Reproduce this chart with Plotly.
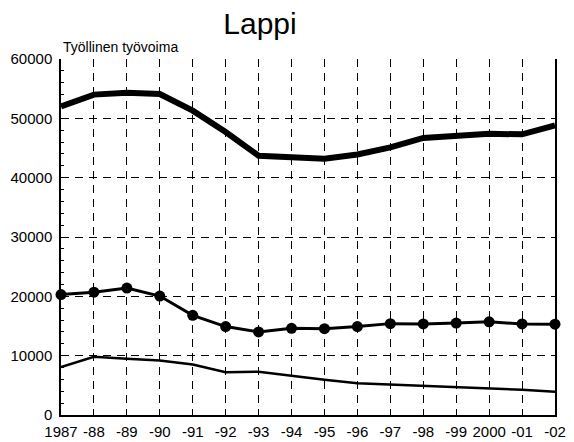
import plotly.graph_objects as go

years = list(range(1987, 2003))
tick_labels = ["1987", "-88", "-89", "-90", "-91", "-92", "-93", "-94", "-95",
               "-96", "-97", "-98", "-99", "2000", "-01", "-02"]

thick_series = [52000, 54000, 54300, 54100, 51300, 47700, 43700, 43500, 43200,
                43900, 45100, 46700, 47000, 47400, 47300, 48800]
marker_series = [20300, 20700, 21400, 20050, 16800, 14900, 14000, 14600, 14550,
                 14900, 15400, 15350, 15500, 15700, 15350, 15300]
thin_series = [8100, 9800, 9500, 9200, 8500, 7200, 7300, 6600, 5950,
               5350, 5150, 4900, 4700, 4500, 4250, 3900]

# page body has an 8px default margin, so the figure is sized to fit the window
W, H = 566, 434

fig = go.Figure()
fig.add_trace(go.Scatter(x=years, y=thick_series, mode="lines",
                         line=dict(color="black", width=6), cliponaxis=False))
fig.add_trace(go.Scatter(x=years, y=marker_series, mode="lines+markers",
                         line=dict(color="black", width=3),
                         marker=dict(color="black", size=11), cliponaxis=False))
fig.add_trace(go.Scatter(x=years, y=thin_series, mode="lines",
                         line=dict(color="black", width=2.5), cliponaxis=False))

fig.update_layout(
    width=W, height=H,
    margin=dict(l=53, r=19, t=51, b=27, autoexpand=False),
    paper_bgcolor="white", plot_bgcolor="white",
    showlegend=False,
    font=dict(family="Liberation Sans, Arial, sans-serif", color="black", size=15),
    title=dict(text="Lappi", x=252 / W, xanchor="center", xref="container",
               y=1 - 15 / H, yanchor="middle", yref="container",
               font=dict(size=30)),
    annotations=[dict(text="Työllinen työvoima", xref="paper", yref="paper",
                      x=0.0, y=1.0, xanchor="left", yanchor="bottom", yshift=2, xshift=0,
                      showarrow=False, font=dict(size=14))],
)
fig.update_xaxes(range=[1987, 2002], tickvals=years, ticktext=tick_labels,
                 showgrid=True, gridcolor="black", gridwidth=1, griddash="8px,6px",
                 showline=True, linecolor="black", linewidth=1.5,
                 ticks="", zeroline=False, tickfont=dict(size=15), automargin=False,
                 ticklabelstandoff=2)
fig.update_yaxes(range=[0, 60000], tickvals=[0, 10000, 20000, 30000, 40000, 50000, 60000],
                 showgrid=True, gridcolor="black", gridwidth=1, griddash="8px,6px",
                 showline=True, linecolor="black", linewidth=1.5, mirror=True,
                 ticks="inside", ticklen=5, tickcolor="black",
                 minor=dict(dtick=2000, ticks="inside", ticklen=3, tickcolor="black", showgrid=False),
                 zeroline=False, tickfont=dict(size=15), tickformat="d", automargin=False,
                 ticklabelstandoff=4)

fig.write_html("out.html")
